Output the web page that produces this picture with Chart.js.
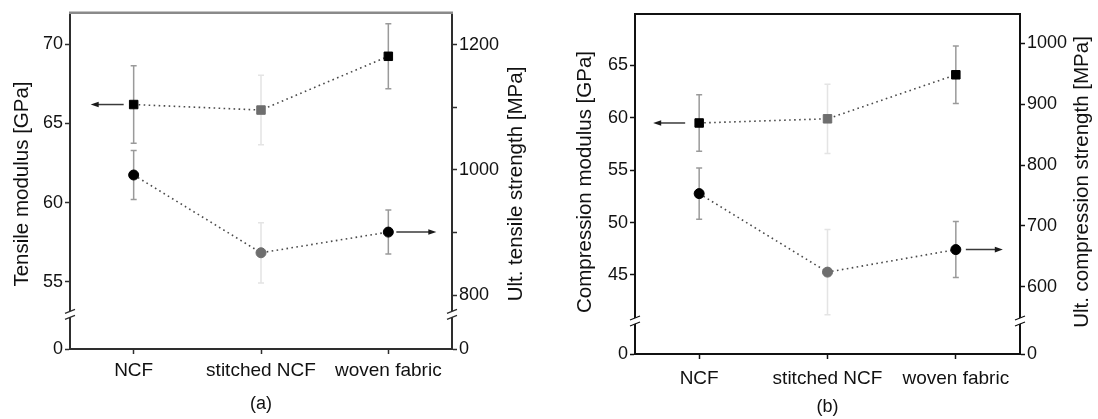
<!DOCTYPE html>
<html>
<head>
<meta charset="utf-8">
<script src="https://cdn.jsdelivr.net/npm/chart.js@4.4.1/dist/chart.umd.min.js"></script>
<style>
  html, body { margin: 0; padding: 0; background: #fff; }
  #wrap { position: relative; width: 1098px; height: 419px; }
  .panel { position: absolute; top: 0; width: 549px; height: 419px; }
</style>
</head>
<body>
<div id="wrap">
  <div class="panel" style="left:0"><canvas id="chartA" width="549" height="419"></canvas></div>
  <div class="panel" style="left:549px"><canvas id="chartB" width="549" height="419"></canvas></div>
</div>
<script>
// categorias
const categories = ['NCF', 'stitched NCF', 'woven fabric'];

// (a) traccion
const tensileModulus = [66.2, 65.85, 69.25];
const tensileModulusErr = [2.45, 2.2, 2.05];
const tensileStrength = [992, 868, 901];
const tensileStrengthErr = [39, 48, 35];

// (b) compresion
const compModulus = [59.5, 59.9, 64.1];
const compModulusErr = [2.7, 3.3, 2.75];
const compStrength = [753, 624, 661];
const compStrengthErr = [42, 70, 46];

// ticks
const tensileModTicks = [55, 60, 65, 70];
const tensileStrTicks = [800, 900, 1000, 1100, 1200];
const tensileStrLabels = [800, 1000, 1200];
const compModTicks = [45, 50, 55, 60, 65];
const compStrTicks = [600, 650, 700, 750, 800, 850, 900, 950, 1000];
const compStrLabels = [600, 700, 800, 900, 1000];
const breakTicks = [0];

const FONT = "'Liberation Sans', Arial, sans-serif";
const TEXT = '#111111';
const markerColors = ['#000000', '#6e6e6e', '#000000'];
const errColors = ['#9a9a9a', '#e4e4e4', '#9a9a9a'];

function drawBreak(ctx, x, y, color) {
    ctx.fillStyle = '#fff';
    ctx.beginPath();
    ctx.moveTo(x - 5, y);
    ctx.lineTo(x + 5, y - 4);
    ctx.lineTo(x + 5, y + 2);
    ctx.lineTo(x - 5, y + 6);
    ctx.closePath();
    ctx.fill();
    ctx.strokeStyle = color;
    ctx.lineWidth = 1.3;
    ctx.beginPath();
    ctx.moveTo(x - 5, y); ctx.lineTo(x + 5, y - 4);
    ctx.moveTo(x - 5, y + 6); ctx.lineTo(x + 5, y + 2);
    ctx.stroke();
}

function drawArrow(ctx, x0, x1, y) {
    const dir = Math.sign(x1 - x0);
    ctx.strokeStyle = '#3a3a3a';
    ctx.lineWidth = 1.5;
    ctx.beginPath();
    ctx.moveTo(x0, y);
    ctx.lineTo(x1 - dir * 5, y);
    ctx.stroke();
    ctx.fillStyle = '#1a1a1a';
    ctx.beginPath();
    ctx.moveTo(x1, y);
    ctx.lineTo(x1 - dir * 8, y - 2.8);
    ctx.lineTo(x1 - dir * 8, y + 2.8);
    ctx.closePath();
    ctx.fill();
}

function yAxis(cfg, opts) {
    return {
        type: 'linear',
        position: opts.position,
        stack: opts.position,
        stackWeight: opts.stackWeight,
        weight: opts.weight,
        min: opts.min,
        max: opts.max,
        afterBuildTicks: s => { s.ticks = opts.ticks.map(v => ({ value: v })); },
        afterFit: s => { s.width = opts.width; },
        grid: { display: true, drawOnChartArea: false, drawTicks: true, tickLength: 5, tickColor: cfg.axisColor, tickWidth: 1.5 },
        border: { display: true, color: cfg.axisColor, width: 2 },
        ticks: {
            color: TEXT,
            padding: 2,
            font: { family: FONT, size: 18 },
            callback: v => (opts.labels.includes(v) ? String(v) : '')
        }
    };
}

function makePanel(id, cfg) {
    const decor = {
        id: 'decor',
        beforeDatasetsDraw(chart) {
            const ctx = chart.ctx;
            ctx.save();
            chart.data.datasets.forEach((ds, i) => {
                const meta = chart.getDatasetMeta(i);
                const ys = chart.scales[ds.yAxisID];
                ds.errors.forEach((e, j) => {
                    const x = meta.data[j].x;
                    const yHi = ys.getPixelForValue(ds.data[j] + e);
                    const yLo = ys.getPixelForValue(ds.data[j] - e);
                    ctx.strokeStyle = errColors[j];
                    ctx.lineWidth = 1.5;
                    ctx.beginPath();
                    ctx.moveTo(x, yHi); ctx.lineTo(x, yLo);
                    ctx.moveTo(x - 3, yHi); ctx.lineTo(x + 3, yHi);
                    ctx.moveTo(x - 3, yLo); ctx.lineTo(x + 3, yLo);
                    ctx.stroke();
                });
            });
            ctx.restore();
        },
        afterDraw(chart) {
            const { ctx, chartArea: a } = chart;
            ctx.save();
            // marco superior
            ctx.strokeStyle = cfg.topColor;
            ctx.lineWidth = cfg.topWidth;
            ctx.beginPath();
            ctx.moveTo(a.left - 1, a.top);
            ctx.lineTo(a.right + 1, a.top);
            ctx.stroke();
            // cortes del eje
            drawBreak(ctx, a.left, chart.scales.yL0.top, cfg.axisColor);
            drawBreak(ctx, a.right, chart.scales.yR0.top, cfg.axisColor);
            // flechas
            const pL = chart.getDatasetMeta(0).data[0];
            drawArrow(ctx, pL.x - cfg.arrowL[0], pL.x - cfg.arrowL[1], pL.y);
            const pR = chart.getDatasetMeta(1).data[2];
            drawArrow(ctx, pR.x + cfg.arrowR[0], pR.x + cfg.arrowR[1], pR.y);
            // titulos de ejes
            ctx.fillStyle = TEXT;
            ctx.font = `20.5px ${FONT}`;
            ctx.textAlign = 'center';
            ctx.textBaseline = 'middle';
            [[cfg.leftTitle, cfg.leftTitleX], [cfg.rightTitle, cfg.rightTitleX]].forEach(([t, x]) => {
                ctx.save();
                ctx.translate(x, cfg.titleY);
                ctx.rotate(-Math.PI / 2);
                ctx.fillText(t, 0, 0);
                ctx.restore();
            });
            ctx.restore();
        }
    };

    const lineStyle = {
        borderColor: '#4a4a4a',
        borderWidth: 1.6,
        borderDash: [1.6, 3.4],
        tension: 0,
        fill: false,
        pointBackgroundColor: markerColors,
        pointBorderColor: markerColors,
        pointBorderWidth: 1
    };

    return new Chart(document.getElementById(id), {
        type: 'line',
        data: {
            labels: categories,
            datasets: [
                { ...lineStyle, label: cfg.leftTitle, data: cfg.mod, errors: cfg.modErr, yAxisID: 'yL', pointStyle: 'rect', pointRadius: 6 },
                { ...lineStyle, label: cfg.rightTitle, data: cfg.str, errors: cfg.strErr, yAxisID: 'yR', pointStyle: 'circle', pointRadius: 5 }
            ]
        },
        options: {
            responsive: false,
            devicePixelRatio: 1,
            animation: false,
            layout: { padding: { top: cfg.top, left: 0, right: 0, bottom: 0 } },
            plugins: { legend: { display: false }, tooltip: { enabled: false } },
            scales: {
                x: {
                    type: 'category',
                    offset: true,
                    afterFit: s => { s.height = cfg.xHeight; },
                    grid: { display: true, drawOnChartArea: false, drawTicks: true, tickLength: 5, tickColor: cfg.axisColor, tickWidth: 1.5 },
                    border: { display: true, color: cfg.axisColor, width: 2 },
                    ticks: { color: TEXT, padding: cfg.catPad, maxRotation: 0, autoSkip: false, font: { family: FONT, size: 19 } },
                    title: { display: true, text: cfg.tag, color: TEXT, font: { family: FONT, size: 18 }, padding: { top: 0, bottom: cfg.tagPad } }
                },
                yL: yAxis(cfg, { position: 'left', stackWeight: cfg.wTop, weight: 1, min: cfg.modRange[0], max: cfg.modRange[1], ticks: cfg.modTicks, labels: cfg.modTicks, width: cfg.leftW }),
                yL0: yAxis(cfg, { position: 'left', stackWeight: cfg.wBot, weight: 0, min: 0, max: 1, ticks: breakTicks, labels: breakTicks, width: cfg.leftW }),
                yR: yAxis(cfg, { position: 'right', stackWeight: cfg.wTop, weight: 0, min: cfg.strRange[0], max: cfg.strRange[1], ticks: cfg.strTicks, labels: cfg.strLabels, width: cfg.rightW }),
                yR0: yAxis(cfg, { position: 'right', stackWeight: cfg.wBot, weight: 1, min: 0, max: 1, ticks: breakTicks, labels: breakTicks, width: cfg.rightW })
            }
        },
        plugins: [decor]
    });
}

makePanel('chartA', {
    mod: tensileModulus, modErr: tensileModulusErr,
    str: tensileStrength, strErr: tensileStrengthErr,
    modTicks: tensileModTicks, strTicks: tensileStrTicks, strLabels: tensileStrLabels,
    modRange: [53.0, 72.0], strRange: [771.5, 1250.6],
    leftTitle: 'Tensile modulus [GPa]', rightTitle: 'Ult. tensile strength [MPa]',
    leftTitleX: 22, rightTitleX: 516, titleY: 184,
    tag: '(a)', tagPad: 4, catPad: 5,
    top: 10, xHeight: 70, leftW: 70, rightW: 97, wTop: 303, wBot: 36,
    axisColor: '#2e2e2e', topColor: '#8a8a8a', topWidth: 2.5,
    arrowL: [10, 43], arrowR: [8, 48]
});

makePanel('chartB', {
    mod: compModulus, modErr: compModulusErr,
    str: compStrength, strErr: compStrengthErr,
    modTicks: compModTicks, strTicks: compStrTicks, strLabels: compStrLabels,
    modRange: [40.7, 69.9], strRange: [545.3, 1048.2],
    leftTitle: 'Compression modulus [GPa]', rightTitle: 'Ult. compression strength [MPa]',
    leftTitleX: 36, rightTitleX: 533, titleY: 182,
    tag: '(b)', tagPad: 1, catPad: 8,
    top: 14, xHeight: 65, leftW: 86, rightW: 78, wTop: 306, wBot: 34,
    axisColor: '#111111', topColor: '#111111', topWidth: 2,
    arrowL: [14, 46], arrowR: [10, 47]
});
</script>
</body>
</html>
